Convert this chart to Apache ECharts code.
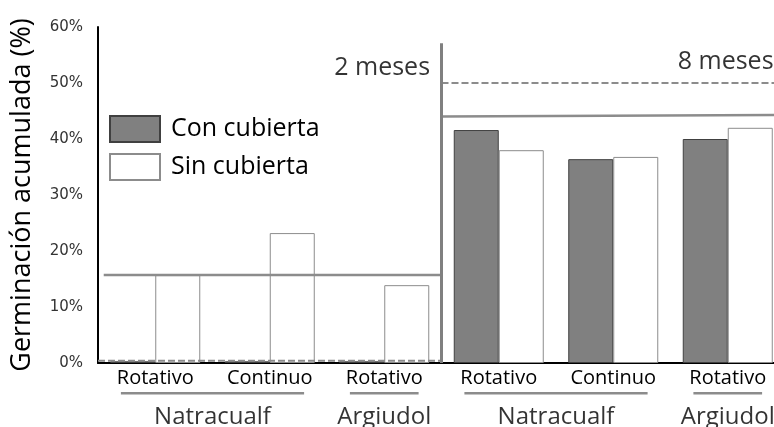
<!DOCTYPE html>
<html lang="es">
  <head>
    <meta charset="UTF-8" />
    <title>Germinación acumulada</title>
    <script src="https://cdn.jsdelivr.net/npm/echarts@6/dist/echarts.min.js"></script>
  </head>
  <body style="margin: 0">
    <div id="main" style="width: 774px; height: 427px"></div>

    <script type="text/javascript">
      // categories (two periods x three soils/managements)
      const categories = ["Rotativo", "Continuo", "Rotativo", "Rotativo", "Continuo", "Rotativo"];
      const conCubierta = [0.3, 0.3, 0.3, 41.6, 36.4, 40.0];
      const sinCubierta = [15.7, 23.2, 13.9, 38.0, 36.8, 42.0];
      const yTicks = [0, 10, 20, 30, 40, 50, 60];

      // soil groups: name + first/last category index
      const groups = [
        { name: "Natracualf", from: 0, to: 1 },
        { name: "Argiudol", from: 2, to: 2 },
        { name: "Natracualf", from: 3, to: 4 },
        { name: "Argiudol", from: 5, to: 5 },
      ];

      // reference lines per period: [from, to, valueStart, valueEnd]
      const periods = ["2 meses", "8 meses"];
      const solidRef = [[0.05, 3, 15.7, 15.7], [3, 6, 44.0, 44.3]];
      const dashedRef = [[0, 3, 0.4, 0.4], [3, 6, 50, 50]];

      const font = "'Open Sans', sans-serif";
      const grey = "#8c8c8c";

      let myChart = echarts.init(document.getElementById("main"));

      const lineSeries = (pts, type, width, color) => ({
        type: "line",
        xAxisIndex: 1,
        data: pts,
        symbol: "none",
        silent: true,
        clip: false,
        z: 5,
        lineStyle: { color: color || grey, width: width, type: type },
      });

      const refSeries = [];
      solidRef.forEach((r) => refSeries.push(lineSeries([[r[0], r[2]], [r[1], r[3]]], "solid", 2.5)));
      dashedRef.forEach((r) => refSeries.push(lineSeries([[r[0], r[2]], [r[1], r[3]]], [7, 3], 2)));
      // divider between periods
      refSeries.push(lineSeries([[3, 0], [3, 57.1]], "solid", 3, "#808080"));
      // underlines below category labels
      groups.forEach((g) => {
        refSeries.push(lineSeries([[g.from + 0.2, -5.4], [g.to + 0.8, -5.4]], "solid", 2.5));
      });

      const options = {
        animation: false,
        textStyle: { fontFamily: font },
        grid: { left: 98, top: 27, width: 687, height: 336, outerBoundsMode: "none" },
        legend: {
          data: ["Con cubierta", "Sin cubierta"],
          orient: "vertical",
          left: 109,
          top: 115,
          padding: 0,
          itemWidth: 50,
          itemHeight: 26,
          itemGap: 10,
          icon: "rect",
          textStyle: { fontSize: 25, color: "#000", fontFamily: font, padding: [0, 0, 0, 6] },
        },
        xAxis: [
          {
            type: "category",
            data: categories,
            axisLine: { lineStyle: { color: "#000", width: 2 } },
            axisTick: { show: false },
            axisLabel: { interval: 0, fontSize: 20, color: "#000", margin: 5 },
          },
          { type: "value", min: 0, max: 6, show: false },
        ],
        yAxis: {
          type: "value",
          min: yTicks[0],
          max: yTicks[yTicks.length - 1],
          interval: 10,
          name: "Germinación acumulada (%)",
          nameLocation: "middle",
          nameGap: 62,
          nameTextStyle: { fontSize: 27, color: "#000", fontFamily: font },
          axisLine: { show: true, lineStyle: { color: "#000", width: 2 } },
          axisTick: { show: false },
          splitLine: { show: false },
          axisLabel: {
            formatter: "{value}%",
            fontSize: 15,
            color: "#333",
            margin: 15,
            fontFamily: "'DejaVu Sans', sans-serif",
          },
        },
        series: [
          {
            name: "Con cubierta",
            type: "bar",
            data: conCubierta,
            barWidth: 45,
            barGap: "0%",
            itemStyle: { color: "#808080", borderColor: "#404040", borderWidth: 1 },
          },
          {
            name: "Sin cubierta",
            type: "bar",
            data: sinCubierta,
            barWidth: 45,
            itemStyle: { color: "#ffffff", borderColor: grey, borderWidth: 1 },
          },
          ...refSeries,
          {
            // soil group names
            type: "scatter",
            xAxisIndex: 1,
            symbolSize: 0,
            clip: false,
            silent: true,
            data: groups.map((g) => ({ value: [(g.from + g.to) / 2 + 0.5, -9.7], name: g.name })),
            label: {
              show: true,
              position: "inside",
              formatter: "{b}",
              fontSize: 24,
              color: "#000",
            },
          },
          {
            // period labels
            type: "scatter",
            xAxisIndex: 1,
            symbolSize: 0,
            clip: false,
            silent: true,
            data: [
              { value: [2.9, 52.7], name: periods[0] },
              { value: [5.9, 53.8], name: periods[1] },
            ],
            label: {
              show: true,
              position: "inside",
              align: "right",
              formatter: "{b}",
              fontSize: 25,
              color: "#000",
            },
          },
        ],
      };

      myChart.setOption(options);
    </script>
  </body>
</html>
